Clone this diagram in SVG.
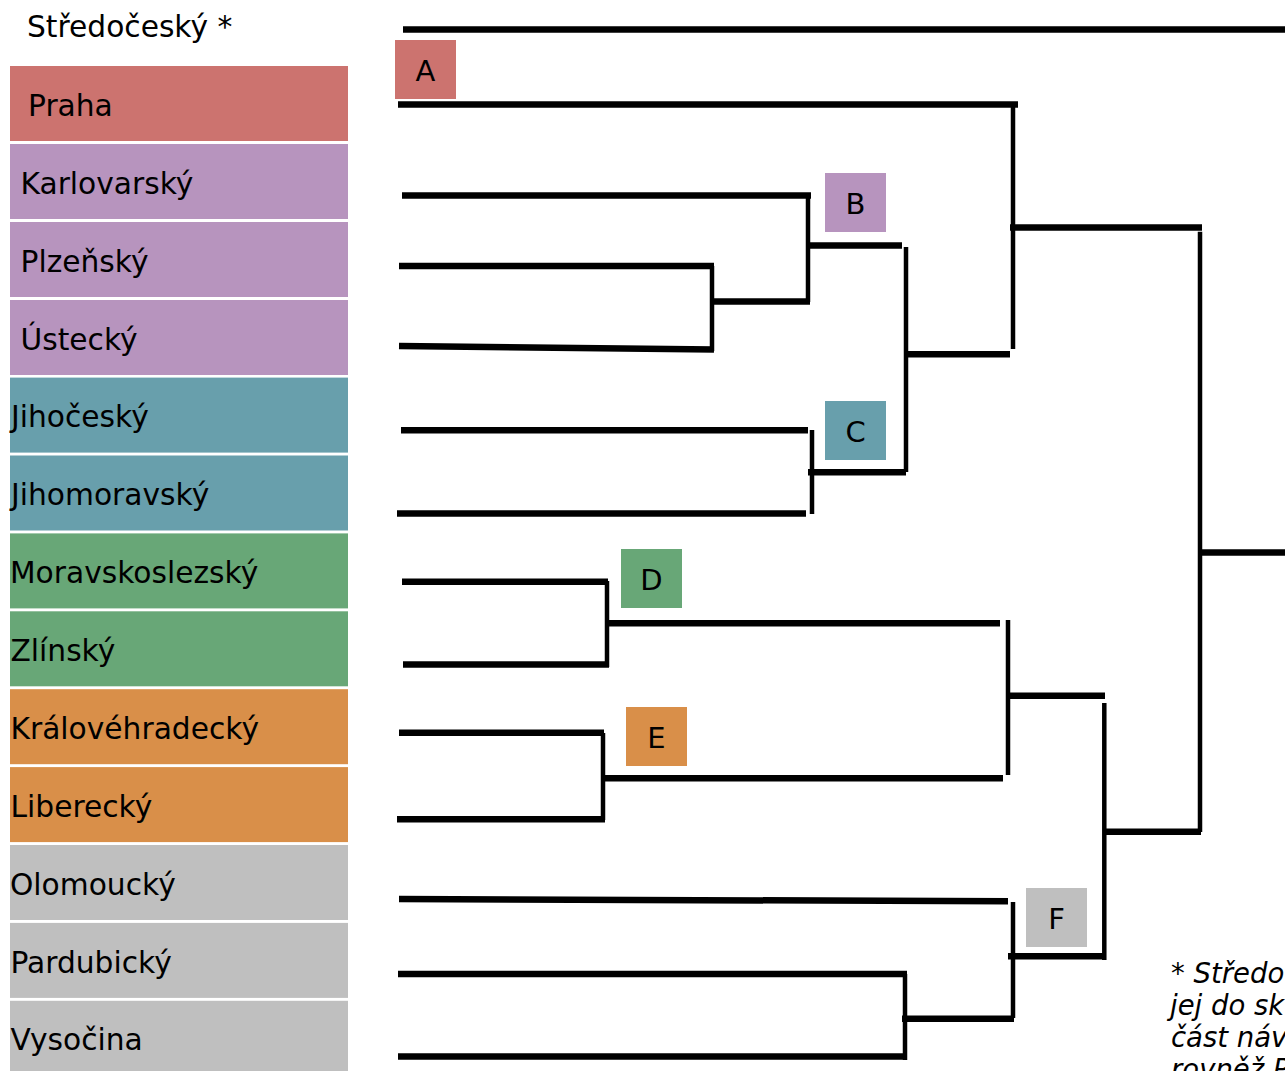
<svg xmlns="http://www.w3.org/2000/svg" width="1285" height="1071" viewBox="0 0 1285 1071">
<style>
text{font-family:"DejaVu Sans","Verdana",sans-serif;font-size:29.7px;fill:#000}
.lbl{text-anchor:middle;font-size:29px}
.note{font-size:27.5px;font-style:italic}
.h{stroke:#000;stroke-width:6.5;fill:none;stroke-linecap:butt}
.v{stroke:#000;stroke-width:4.5;fill:none;stroke-linecap:butt}
.red{fill:#cc736f}.pur{fill:#b794be}.tea{fill:#689fac}.gre{fill:#68a777}.ora{fill:#d98f49}.gra{fill:#bfbfbf}
</style>
<rect width="1285" height="1071" fill="#fff"/>
<g id="stredocesky"><text x="27" y="37">Středočeský *</text></g>
<g id="praha"><rect class="red" x="10" y="66" width="338" height="75"/><text x="28" y="115.5">Praha</text></g>
<g id="karlovarsky"><rect class="pur" x="10" y="144" width="338" height="75"/><text x="20.5" y="193.5">Karlovarský</text></g>
<g id="plzensky"><rect class="pur" x="10" y="222" width="338" height="75"/><text x="20.5" y="271.5">Plzeňský</text></g>
<g id="ustecky"><rect class="pur" x="10" y="300" width="338" height="75"/><text x="20.5" y="349.5">Ústecký</text></g>
<g id="jihocesky"><rect class="tea" x="10" y="377.6" width="338" height="75"/><text x="11" y="427">Jihočeský</text></g>
<g id="jihomoravsky"><rect class="tea" x="10" y="455.5" width="338" height="75"/><text x="11" y="505">Jihomoravský</text></g>
<g id="moravskoslezsky"><rect class="gre" x="10" y="533.4" width="338" height="75"/><text x="10" y="583">Moravskoslezský</text></g>
<g id="zlinsky"><rect class="gre" x="10" y="611.3" width="338" height="75"/><text x="10.5" y="661">Zlínský</text></g>
<g id="kralovehradecky"><rect class="ora" x="10" y="689.2" width="338" height="75"/><text x="10.5" y="739">Královéhradecký</text></g>
<g id="liberecky"><rect class="ora" x="10" y="767.1" width="338" height="75"/><text x="10.5" y="816.5">Liberecký</text></g>
<g id="olomoucky"><rect class="gra" x="10" y="845" width="338" height="75"/><text x="10" y="894.5">Olomoucký</text></g>
<g id="pardubicky"><rect class="gra" x="10" y="922.9" width="338" height="75"/><text x="10.5" y="972.5">Pardubický</text></g>
<g id="vysocina"><rect class="gra" x="10" y="1000.8" width="338" height="75"/><text x="10.5" y="1050">Vysočina</text></g>
<g id="label-a"><rect class="red" x="395" y="40" width="61" height="59"/><text class="lbl" x="425.5" y="81">A</text></g>
<g id="label-b"><rect class="pur" x="825" y="173" width="61" height="59"/><text class="lbl" x="855.5" y="214">B</text></g>
<g id="label-c"><rect class="tea" x="825" y="401" width="61" height="59"/><text class="lbl" x="855.5" y="442">C</text></g>
<g id="label-d"><rect class="gre" x="621" y="549" width="61" height="59"/><text class="lbl" x="651.5" y="590">D</text></g>
<g id="label-e"><rect class="ora" x="626" y="707" width="61" height="59"/><text class="lbl" x="656.5" y="748">E</text></g>
<g id="label-f"><rect class="gra" x="1026" y="888" width="61" height="59"/><text class="lbl" x="1056.5" y="929">F</text></g>
<g id="connectors">
<path class="h" d="M403 29.5H1285"/>
<path class="h" d="M398 104.5H1018"/>
<path class="h" d="M402 195.5H811"/>
<path class="h" d="M399 266H714"/>
<path class="h" d="M399 346L714 349.5"/>
<path class="h" d="M712 301.5H810"/>
<path class="h" d="M808 245.5H902"/>
<path class="h" d="M401 430.3H808"/>
<path class="h" d="M397 513.5H806"/>
<path class="h" d="M808 472.3H906"/>
<path class="h" d="M906 354.3H1010"/>
<path class="h" d="M1010 227.5H1202"/>
<path class="h" d="M402 581.7H608"/>
<path class="h" d="M403 664.5H609"/>
<path class="h" d="M607 623.3H1000"/>
<path class="h" d="M399 732.7H604"/>
<path class="h" d="M397 819.3H605"/>
<path class="h" d="M603 778.3H1003"/>
<path class="h" d="M1008 695.7H1105"/>
<path class="h" d="M399 899L1008 901.3"/>
<path class="h" d="M398 974H907"/>
<path class="h" d="M398 1056.5H907"/>
<path class="h" d="M902 1018.7H1014"/>
<path class="h" d="M1008 956.3H1105"/>
<path class="h" d="M1104 831.7H1201"/>
<path class="h" d="M1200 552.5H1285"/>
<path class="v" d="M1013 104V349"/>
<path class="v" d="M808 195V302"/>
<path class="v" d="M712 266V351"/>
<path class="v" d="M906 247V472"/>
<path class="v" d="M812 430V514"/>
<path class="v" d="M607 581V667"/>
<path class="v" d="M603 733V820"/>
<path class="v" d="M1008 620V775"/>
<path class="v" d="M1104.3 703V960"/>
<path class="v" d="M1013 902V1018"/>
<path class="v" d="M905 974V1060"/>
<path class="v" d="M1200 231.7V832"/>
</g>
<g id="footnote">
<text class="note" x="1171" y="983">* Středo</text>
<text class="note" x="1170" y="1015">jej do sk</text>
<text class="note" x="1171" y="1047">část náv</text>
<text class="note" x="1171" y="1079">rovněž P</text>
</g>
</svg>
